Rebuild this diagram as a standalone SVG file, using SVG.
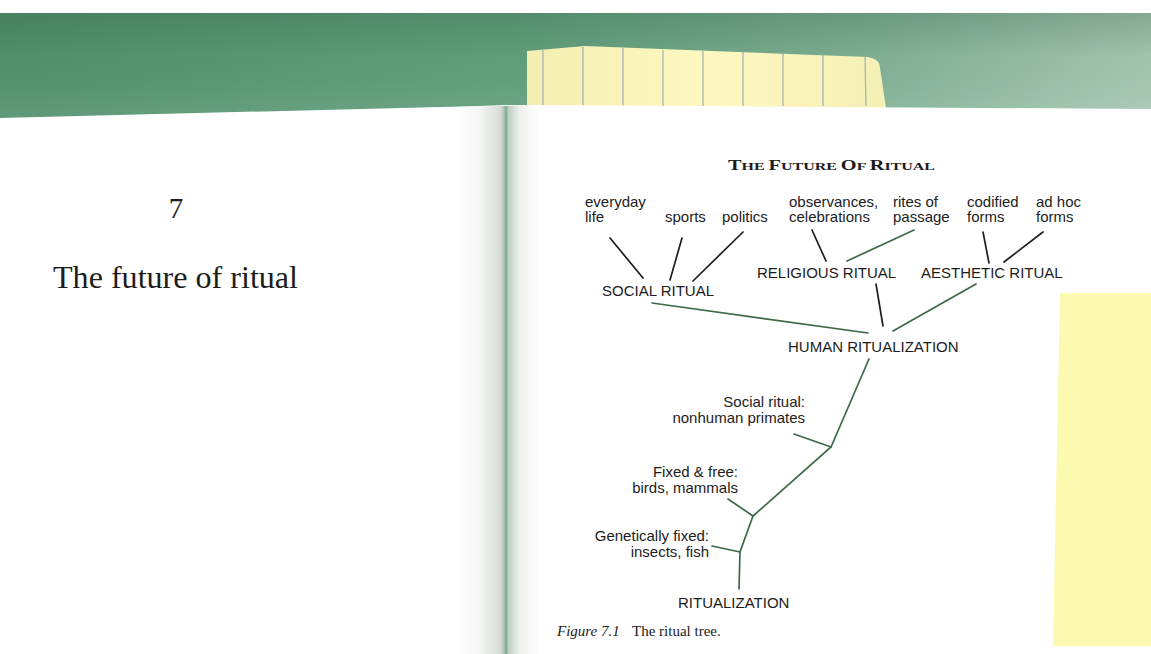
<svg xmlns="http://www.w3.org/2000/svg" width="1151" height="654" viewBox="0 0 1151 654">
  <defs>
    <linearGradient id="band" x1="0" y1="0" x2="1" y2="0">
      <stop offset="0" stop-color="#52906c"/>
      <stop offset="0.45" stop-color="#62a07d"/>
      <stop offset="0.75" stop-color="#82b196"/>
      <stop offset="1" stop-color="#a9c9b3"/>
    </linearGradient>
    <linearGradient id="bandShade" x1="0" y1="0" x2="0" y2="1">
      <stop offset="0" stop-color="#2f5e44" stop-opacity="0.3"/>
      <stop offset="0.4" stop-color="#2f5e44" stop-opacity="0.05"/>
      <stop offset="1" stop-color="#ffffff" stop-opacity="0.1"/>
    </linearGradient>
    <linearGradient id="gutter" x1="0" y1="0" x2="1" y2="0">
      <stop offset="0" stop-color="#ffffff"/>
      <stop offset="0.29" stop-color="#f5f6f5"/>
      <stop offset="0.53" stop-color="#d9ddd9"/>
      <stop offset="0.576" stop-color="#b2c8b8"/>
      <stop offset="0.6" stop-color="#74a886"/>
      <stop offset="0.625" stop-color="#bccfc1"/>
      <stop offset="0.76" stop-color="#eef0ee"/>
      <stop offset="1" stop-color="#ffffff"/>
    </linearGradient>
    <linearGradient id="note" x1="0" y1="0" x2="1" y2="0">
      <stop offset="0" stop-color="#f3efb2"/>
      <stop offset="0.5" stop-color="#fcf8c0"/>
      <stop offset="1" stop-color="#f4f0b5"/>
    </linearGradient>
    <style>
      .lbl { font-family: "Liberation Sans", Arial, sans-serif; font-size: 15px; fill: #1c1c1c; }
      .end { text-anchor: end; }
      .dark { stroke: #1e1e1e; stroke-width: 1.7; fill: none; stroke-linecap: round; }
      .green { stroke: #3b6a48; stroke-width: 1.7; fill: none; stroke-linecap: round; }
      .serif { font-family: "Liberation Serif", "Times New Roman", serif; fill: #1c1c1c; }
      .rule { stroke: #9eb0b6; stroke-width: 1.2; }
    </style>
  </defs>

  <!-- backdrop: white strip, green band behind the open book -->
  <rect x="0" y="0" width="1151" height="654" fill="#ffffff"/>
  <rect x="0" y="13" width="1151" height="110" fill="url(#band)"/>
  <rect x="0" y="13" width="1151" height="110" fill="url(#bandShade)"/>

  <!-- yellow slip sticking out above the right page -->
  <g id="top-slip">
    <path d="M527,51 L585,46 L868,57 Q880,59 880,68 L886,108 L527,108 Z" fill="url(#note)"/>
    <g class="rule">
      <line x1="543" y1="50" x2="543" y2="106"/>
      <line x1="583" y1="47" x2="583" y2="106"/>
      <line x1="623" y1="48" x2="623" y2="106"/>
      <line x1="663" y1="50" x2="663" y2="106"/>
      <line x1="703" y1="51" x2="703" y2="106"/>
      <line x1="743" y1="52" x2="743" y2="106"/>
      <line x1="783" y1="54" x2="783" y2="106"/>
      <line x1="823" y1="55" x2="823" y2="106"/>
      <line x1="865" y1="57" x2="866" y2="106"/>
    </g>
  </g>

  <!-- pages and the fold between them -->
  <path d="M0,118 L480,106 L506,105 L506,654 L0,654 Z" fill="#ffffff"/>
  <path d="M506,105 L540,105 L1151,109 L1151,654 L506,654 Z" fill="#ffffff"/>
  <path d="M455,107 L540,105 L540,654 L455,654 Z" fill="url(#gutter)"/>

  <!-- yellow note on the right page -->
  <path id="side-note" d="M1060,293 L1151,293 L1151,646 L1053,646 Z" fill="#fcf9b1"/>

  <!-- left page: chapter opening -->
  <g id="chapter-number">
    <text class="serif" x="176" y="218" font-size="29" text-anchor="middle">7</text>
  </g>
  <g id="chapter-title">
    <text class="serif" x="53" y="288" font-size="32" textLength="245" lengthAdjust="spacingAndGlyphs">The future of ritual</text>
  </g>

  <!-- right page running head -->
  <g id="running-head">
    <text class="serif" x="728" y="170" font-weight="bold" textLength="207" lengthAdjust="spacingAndGlyphs"><tspan font-size="14">T</tspan><tspan font-size="11">HE </tspan><tspan font-size="14">F</tspan><tspan font-size="11">UTURE </tspan><tspan font-size="14">O</tspan><tspan font-size="11">F </tspan><tspan font-size="14">R</tspan><tspan font-size="11">ITUAL</tspan></text>
  </g>

  <!-- connectors of the tree -->
  <g id="connectors">
    <line class="dark" x1="610" y1="238" x2="643" y2="278"/>
    <line class="dark" x1="682" y1="238" x2="670" y2="280"/>
    <line class="dark" x1="743" y1="232" x2="693" y2="281"/>
    <line class="dark" x1="812" y1="230" x2="826" y2="261"/>
    <line class="green" x1="914" y1="230" x2="847" y2="261"/>
    <line class="dark" x1="983" y1="232" x2="989" y2="263"/>
    <line class="dark" x1="1043" y1="232" x2="1004" y2="262"/>
    <line class="dark" x1="876" y1="284" x2="883" y2="326"/>
    <line class="green" x1="976" y1="284" x2="893" y2="331"/>
    <line class="green" x1="652" y1="303" x2="868" y2="333"/>
    <polyline class="green" points="869,359 831,447 753,516 740,552 739,589"/>
    <line class="green" x1="794" y1="434" x2="831" y2="447"/>
    <line class="green" x1="728" y1="499" x2="753" y2="516"/>
    <line class="green" x1="712" y1="546" x2="740" y2="552"/>
  </g>

  <!-- tree nodes -->
  <g id="everyday-life">
    <text class="lbl" x="585" y="207">everyday</text>
    <text class="lbl" x="585" y="222">life</text>
  </g>
  <g id="sports">
    <text class="lbl" x="665" y="222">sports</text>
  </g>
  <g id="politics">
    <text class="lbl" x="722" y="222">politics</text>
  </g>
  <g id="observances">
    <text class="lbl" x="789" y="207">observances,</text>
    <text class="lbl" x="789" y="222">celebrations</text>
  </g>
  <g id="rites-of-passage">
    <text class="lbl" x="893" y="207">rites of</text>
    <text class="lbl" x="893" y="222">passage</text>
  </g>
  <g id="codified-forms">
    <text class="lbl" x="967" y="207">codified</text>
    <text class="lbl" x="967" y="222">forms</text>
  </g>
  <g id="ad-hoc-forms">
    <text class="lbl" x="1036" y="207">ad hoc</text>
    <text class="lbl" x="1036" y="222">forms</text>
  </g>
  <g id="social-ritual">
    <text class="lbl" x="602" y="296">SOCIAL RITUAL</text>
  </g>
  <g id="religious-ritual">
    <text class="lbl" x="757" y="278">RELIGIOUS RITUAL</text>
  </g>
  <g id="aesthetic-ritual">
    <text class="lbl" x="921" y="278">AESTHETIC RITUAL</text>
  </g>
  <g id="human-ritualization">
    <text class="lbl" x="788" y="352">HUMAN RITUALIZATION</text>
  </g>
  <g id="primates">
    <text class="lbl end" x="805" y="407">Social ritual:</text>
    <text class="lbl end" x="805" y="423">nonhuman primates</text>
  </g>
  <g id="birds-mammals">
    <text class="lbl end" x="738" y="477">Fixed &amp; free:</text>
    <text class="lbl end" x="738" y="493">birds, mammals</text>
  </g>
  <g id="insects-fish">
    <text class="lbl end" x="709" y="541">Genetically fixed:</text>
    <text class="lbl end" x="709" y="557">insects, fish</text>
  </g>
  <g id="ritualization">
    <text class="lbl" x="678" y="608">RITUALIZATION</text>
  </g>

  <!-- caption -->
  <g id="caption">
    <text class="serif" x="557" y="636" font-size="15"><tspan font-style="italic">Figure 7.1</tspan><tspan x="632">The ritual tree.</tspan></text>
  </g>
</svg>
